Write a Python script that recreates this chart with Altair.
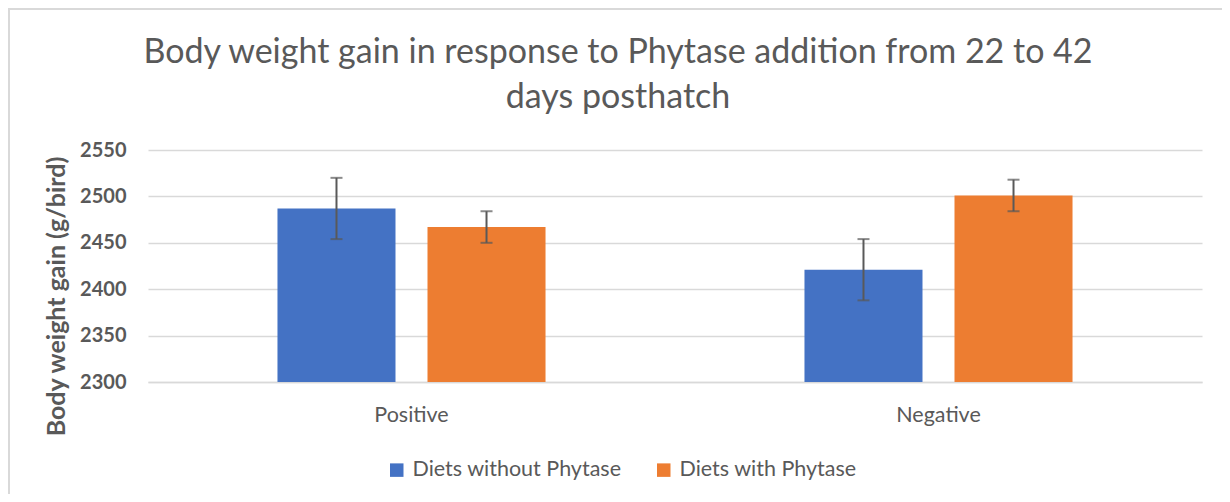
import altair as alt
import pandas as pd

categories = ["Positive", "Positive", "Negative", "Negative"]
diets = ["Diets without Phytase", "Diets with Phytase", "Diets without Phytase", "Diets with Phytase"]
means = [2487, 2467, 2421, 2501]
errors = [33, 17, 33, 17]

df = pd.DataFrame({
    "Category": categories,
    "Diet": diets,
    "Gain": means,
    "Lo": [m - e for m, e in zip(means, errors)],
    "Hi": [m + e for m, e in zip(means, errors)],
})

cat_order = ["Positive", "Negative"]
diet_order = ["Diets without Phytase", "Diets with Phytase"]
colors = ["#4472C4", "#ED7D31"]
TXT = "#595959"
FONT = "Lato"

x = alt.X("Category:N", sort=cat_order, title=None,
          scale=alt.Scale(paddingInner=0, paddingOuter=0),
          axis=alt.Axis(labelAngle=0, labelFont=FONT, labelFontSize=21.5, labelColor=TXT,
                        ticks=False, tickSize=0, labelPadding=22, domain=True,
                        domainColor="#d9d9d9", domainWidth=1.5, grid=False))
xo = alt.XOffset("Diet:N", sort=diet_order,
                 scale=alt.Scale(paddingInner=0.2133, paddingOuter=0.863))
yscale = alt.Scale(domain=[2300, 2550], zero=False, nice=False)

bars = alt.Chart(df).mark_bar().encode(
    x=x,
    xOffset=xo,
    y=alt.Y("Gain:Q", scale=yscale, title="Body weight gain (g/bird)",
            axis=alt.Axis(values=[2300, 2350, 2400, 2450, 2500, 2550], format="d",
                          labelFont=FONT, labelFontSize=20, labelFontWeight="bold",
                          labelColor=TXT, labelPadding=22, ticks=False, tickSize=0,
                          domain=False, grid=True, gridColor="#d9d9d9", gridWidth=1.5,
                          titleFont=FONT, titleFontSize=25, titleFontWeight="bold",
                          titleColor=TXT, titleX=-92, titleY=146, titleAngle=270,
                          titleAlign="center", titleBaseline="middle")),
    y2=alt.datum(2300),
    color=alt.Color("Diet:N", sort=diet_order,
                    scale=alt.Scale(domain=diet_order, range=colors),
                    legend=alt.Legend(title=None, orient="none", direction="horizontal",
                                      legendX=238, legendY=309, padding=0,
                                      symbolType="square", symbolSize=182,
                                      symbolStrokeWidth=0, labelFont=FONT,
                                      labelFontSize=21.5, labelColor=TXT, labelOffset=5,
                                      labelLimit=500, columnPadding=31)),
)

rules = alt.Chart(df).mark_rule(color="#595959", strokeWidth=2).encode(
    x=alt.X("Category:N", sort=cat_order),
    xOffset=alt.XOffset("Diet:N", sort=diet_order),
    y=alt.Y("Lo:Q"),
    y2="Hi:Q",
)

caps_lo = alt.Chart(df).mark_tick(color="#595959", orient="horizontal", size=12, thickness=2).encode(
    x=alt.X("Category:N", sort=cat_order),
    xOffset=alt.XOffset("Diet:N", sort=diet_order),
    y=alt.Y("Lo:Q"),
)
caps_hi = alt.Chart(df).mark_tick(color="#595959", orient="horizontal", size=12, thickness=2).encode(
    x=alt.X("Category:N", sort=cat_order),
    xOffset=alt.XOffset("Diet:N", sort=diet_order),
    y=alt.Y("Hi:Q"),
)

frame = alt.Chart(pd.DataFrame({"f": [0]})).mark_rect(
    fill=None, stroke="#d9d9d9", strokeWidth=2
).encode(
    x=alt.value(-139), x2=alt.value(1100),
    y=alt.value(-141), y2=alt.value(400),
)

chart = alt.layer(frame, bars, rules, caps_lo, caps_hi).properties(
    width=1054, height=232,
    autosize=alt.AutoSizeParams(type="none"),
    padding={"left": 140, "top": 142, "right": 20, "bottom": 112},
    title=alt.TitleParams(
        text=["Body weight gain in response to Phytase addition from 22 to 42", "days posthatch"],
        font=FONT, fontSize=34, fontWeight="normal", color=TXT, frame="group",
        anchor="middle", dx=-57, dy=179, lineHeight=45, offset=45, baseline="alphabetic",
    ),
).configure_view(stroke=None)

chart.save("out.html", embed_options={"renderer": "svg", "actions": False})
